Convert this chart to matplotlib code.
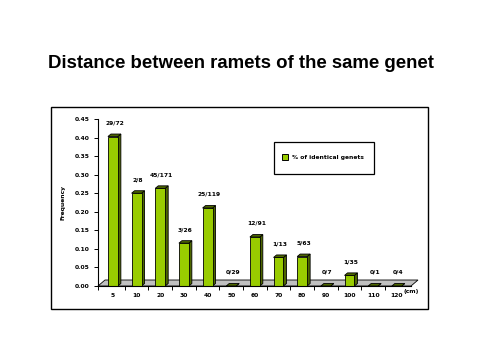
import matplotlib
matplotlib.use("Agg")
import matplotlib.pyplot as plt
from matplotlib.patches import Rectangle, Polygon

categories = ["5", "10", "20", "30", "40", "50", "60", "70", "80", "90", "100", "110", "120"]
values = [29/72, 2/8, 45/171, 3/26, 25/119, 0/29, 12/91, 1/13, 5/63, 0/7, 1/35, 0/1, 0/4]
bar_labels = ["29/72", "2/8", "45/171", "3/26", "25/119", "0/29", "12/91", "1/13", "5/63", "0/7", "1/35", "0/1", "0/4"]
yticks = [0.00, 0.05, 0.10, 0.15, 0.20, 0.25, 0.30, 0.35, 0.40, 0.45]
title = "Distance between ramets of the same genet"
legend_label = "% of identical genets"

W, H = 480, 360
fig = plt.figure(figsize=(4.8, 3.6), dpi=100)
fig.patch.set_facecolor("white")

def fx(px):
    return px / W

def fy(py):
    return 1 - py / H

# Chart frame
fig.patches.append(Rectangle((fx(51), fy(309)), fx(428) - fx(51), fy(107) - fy(309),
                             transform=fig.transFigure, fill=False, edgecolor="black", lw=1.0))

fig.text(fx(241), fy(63), title, ha="center", va="center", fontsize=13.4,
         fontweight="bold", family="Liberation Sans")

ax = fig.add_axes([fx(98), fy(286), fx(411) - fx(98), fy(119) - fy(286)])
xmin, xmax = -0.63, 12.6
ax.set_xlim(xmin, xmax)
ax.set_ylim(0, 0.45)
fig.canvas.draw()
ppx = ax.bbox.width / (xmax - xmin)
ppy = ax.bbox.height / 0.45

def dxp(p):
    return p / ppx

def dyp(p):
    return p / ppy

front = "#99CC00"
side = "#4D6600"

# Floor
fdx, fdy = 7, 6
floor = Polygon([(xmin, 0), (xmax, 0), (xmax + dxp(fdx), dyp(fdy)), (xmin + dxp(fdx), dyp(fdy))],
                closed=True, facecolor="#C0C0C0", edgecolor="black", lw=0.6, clip_on=False, zorder=1)
ax.add_patch(floor)

xs = list(range(len(categories)))
bw = 0.42
bdx, bdy = 3, 2.5
bars = ax.bar(xs, values, width=bw, color=front, edgecolor="black", linewidth=0.6, zorder=3)
for x, v, lab in zip(xs, values, bar_labels):
    x0, x1 = x - bw / 2, x + bw / 2
    ax.add_patch(Polygon([(x1, 0), (x1, v), (x1 + dxp(bdx), v + dyp(bdy)), (x1 + dxp(bdx), dyp(bdy))],
                         closed=True, facecolor=side, edgecolor="black", lw=0.6, zorder=2, clip_on=False))
    ax.add_patch(Polygon([(x0, v), (x1, v), (x1 + dxp(bdx), v + dyp(bdy)), (x0 + dxp(bdx), v + dyp(bdy))],
                         closed=True, facecolor=side, edgecolor="black", lw=0.6, zorder=4, clip_on=False))
    ax.annotate(lab, (x + dxp(1.5), v), xytext=(0, 8), textcoords="offset points",
                ha="center", va="bottom", fontsize=4.3, fontweight="bold", zorder=5)

for s in ["top", "right"]:
    ax.spines[s].set_visible(False)
for s in ["left", "bottom"]:
    ax.spines[s].set_linewidth(0.8)
    ax.spines[s].set_zorder(6)

ax.set_yticks(yticks)
ax.set_yticklabels([f"{t:.2f}" for t in yticks], fontsize=4.3, fontweight="bold")
ax.tick_params(axis="y", length=3, width=0.7, pad=3)
ax.set_xticks([x + 0.5 for x in xs[:-1]] + [xmin])
ax.set_xticklabels([])
ax.set_xticks(xs, minor=True)
ax.set_xticklabels(categories, minor=True, fontsize=4.3, fontweight="bold")
ax.tick_params(axis="x", which="major", length=3, width=0.7)
ax.tick_params(axis="x", which="minor", length=0, pad=5)

fig.text(fx(63), fy(202), "Frequency", rotation=90, ha="center", va="center",
         fontsize=4.3, fontweight="bold")
fig.text(fx(404), fy(291), "(cm)", ha="left", va="center", fontsize=4.3, fontweight="bold")

# Legend
fig.patches.append(Rectangle((fx(274), fy(174)), fx(374) - fx(274), fy(142) - fy(174),
                             transform=fig.transFigure, facecolor="white", edgecolor="black", lw=0.9))
fig.patches.append(Rectangle((fx(282), fy(160)), fx(288) - fx(282), fy(154) - fy(160),
                             transform=fig.transFigure, facecolor=front, edgecolor="black", lw=0.7))
fig.text(fx(292), fy(157), legend_label, ha="left", va="center", fontsize=4.3, fontweight="bold")

fig.savefig("out.png", dpi=100, facecolor="white")
